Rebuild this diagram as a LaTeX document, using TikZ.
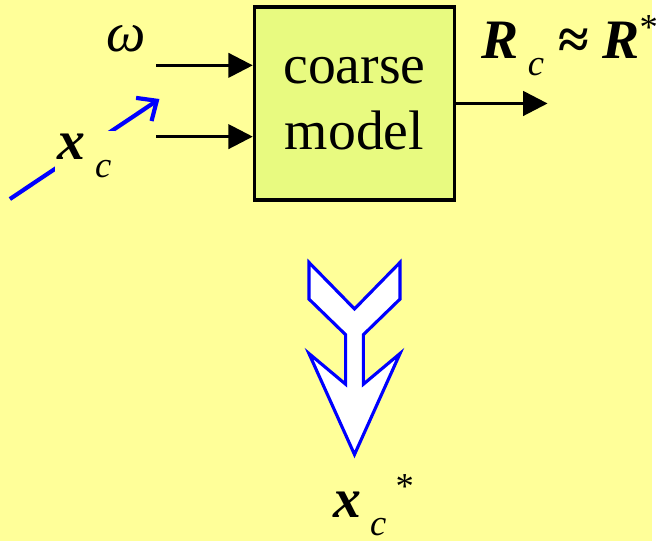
\documentclass[tikz,border=0pt]{standalone}
\usepackage{fontspec}
\setmainfont{Liberation Serif}
\newfontfamily\timesf{Liberation Serif}
\usetikzlibrary{arrows.meta,positioning}
\definecolor{bg}{RGB}{255,255,153}
\definecolor{boxfill}{RGB}{232,250,128}
\newcommand{\bvec}[1]{\textbf{\textit{#1}}}
\newcommand{\lowsub}[1]{\,\raisebox{-10pt}{\fontsize{21}{21}\selectfont\textit{#1}}}
\newcommand{\upstar}{\raisebox{11pt}{\fontsize{21}{21}\selectfont *}}

\begin{document}
\begin{tikzpicture}[x=0.02cm,y=-0.02cm,font=\timesf\fontsize{32}{38}\selectfont,
    sig/.style={-{Triangle[length=14pt,width=14pt]},line width=1.7pt},
    lab/.style={anchor=base west,inner sep=0pt}]
    \fill[bg] (0,0) rectangle (658,546);
    % coarse model block
    \node[draw,line width=2pt,fill=boxfill,minimum width=4.04cm,minimum height=3.9cm,align=center] (model) at (358,104.5) {coarse\\model};
    \coordinate (w in) at (158,66);
    \coordinate (x in) at (158,138);
    \coordinate (r out) at (553,104.5);
    \draw[sig] (w in) -- (w in -| model.west);
    \draw[sig] (x in) -- (x in -| model.west);
    \draw[sig] (model.east) -- (r out);
    \node[lab] (omega) at (107,52) {\textit{ω}};
    \node[lab] (rlab) at (486,59) {\bvec{R}\lowsub{c} \textbf{≈} \bvec{R}\upstar};
    % blue input arrow
    \coordinate (xs) at (10,201);
    \coordinate (xe) at (161,100);
    \draw[blue,line width=2.4pt,-{Straight Barb[length=9pt,width=16pt]}] (xs) -- node[fill=bg,text=black,inner sep=2pt,yshift=-4pt] (xlab) {\bvec{x}\lowsub{c}} (xe);
    % hollow arrow down
    \draw[blue,line width=1.8pt,fill=white] (312,265) -- (312,302) -- (349,338) -- (349,388) -- (312,357)
      -- (358,459) -- (404,357) -- (367,388) -- (367,338) -- (404,302) -- (404,265) -- (358,312) -- cycle;
    \node[lab] (xstar) at (336,523) {\bvec{x}\lowsub{c}\,\upstar};
\end{tikzpicture}
\end{document}
